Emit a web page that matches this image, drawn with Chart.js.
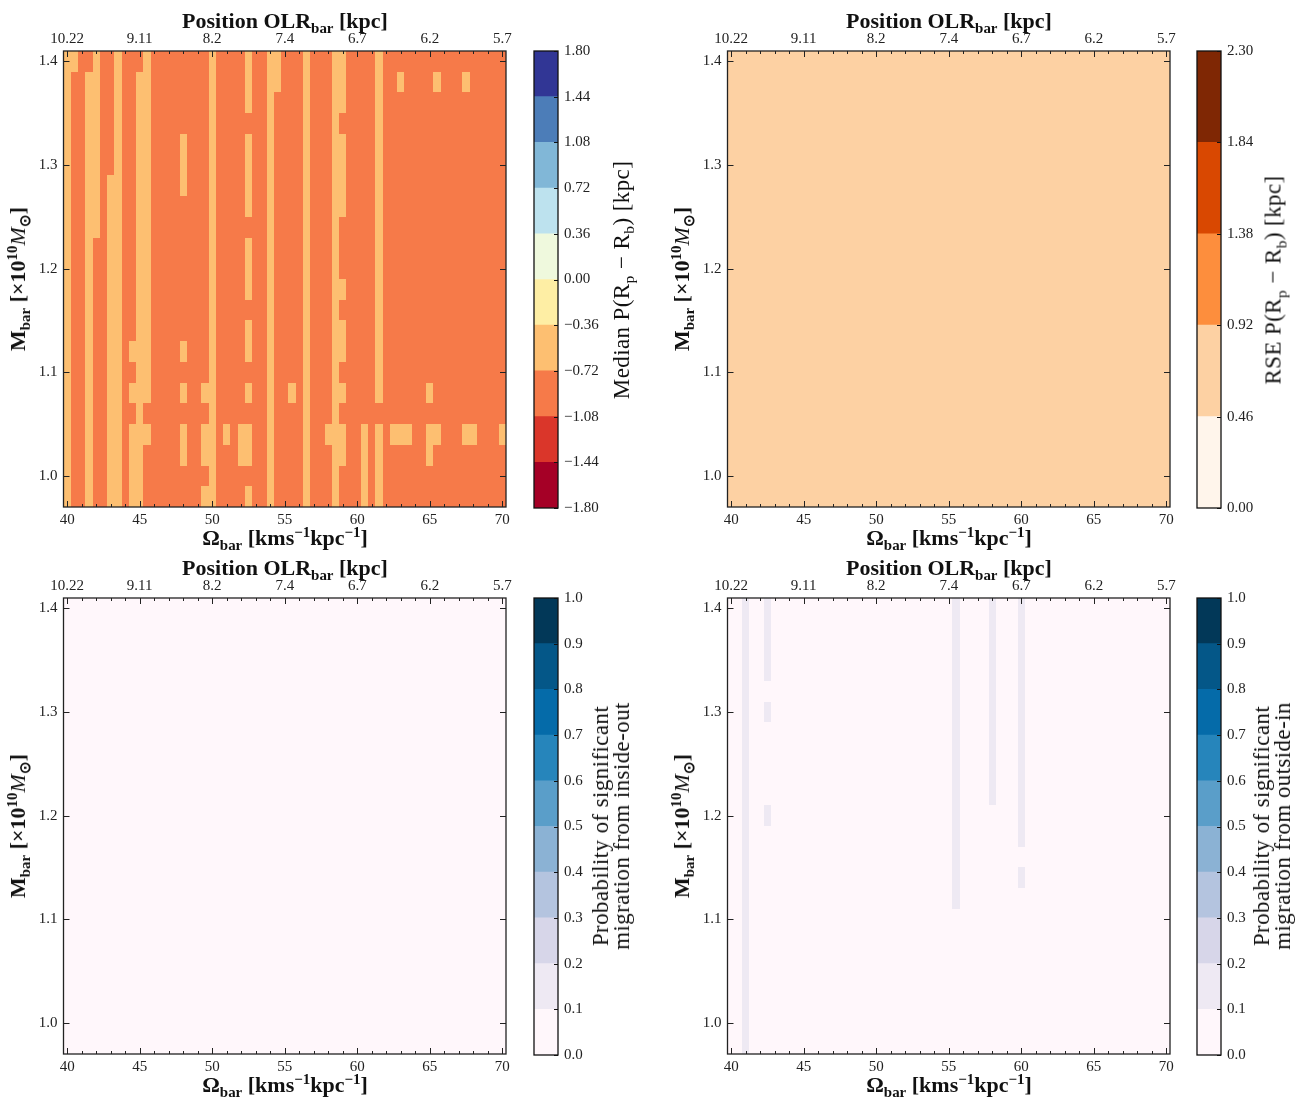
<!DOCTYPE html>
<html>
<head>
<meta charset="utf-8">
<script src="https://cdn.jsdelivr.net/npm/chart.js@4.4.1/dist/chart.umd.min.js"></script>
<style>
  body { margin: 0; background: #fff; }
  #page { position: relative; width: 1299px; height: 1099px; overflow: hidden; }
  canvas { position: absolute; }
  .txt { position: absolute; font-family: 'Liberation Serif', serif; color: #111; white-space: nowrap;
         transform: translate(-50%, -50%); line-height: 1; }
  .bold { font-weight: bold; font-size: 22px; }
  .rot { transform: translate(-50%, -50%) rotate(-90deg); }
  .cbl { font-size: 23px; letter-spacing: 0.4px; text-align: center; line-height: 21px; }
  sub, sup { font-size: 68%; line-height: 0; }
</style>
</head>
<body>
<div id="page">
  <canvas id="hTL" width="520" height="545" style="left:0;top:0"></canvas>
  <canvas id="hTR" width="520" height="545" style="left:664px;top:0"></canvas>
  <canvas id="hBL" width="520" height="545" style="left:0;top:547px"></canvas>
  <canvas id="hBR" width="520" height="545" style="left:664px;top:547px"></canvas>
  <canvas id="cTL" width="82" height="545" style="left:533px;top:0"></canvas>
  <canvas id="cTR" width="82" height="545" style="left:1196px;top:0"></canvas>
  <canvas id="cBL" width="82" height="545" style="left:533px;top:547px"></canvas>
  <canvas id="cBR" width="82" height="545" style="left:1196px;top:547px"></canvas>

  <div class="txt bold" style="left:285px;top:21px">Position OLR<sub>bar</sub> [kpc]</div>
  <div class="txt bold" style="left:949px;top:21px">Position OLR<sub>bar</sub> [kpc]</div>
  <div class="txt bold" style="left:285px;top:568px">Position OLR<sub>bar</sub> [kpc]</div>
  <div class="txt bold" style="left:949px;top:568px">Position OLR<sub>bar</sub> [kpc]</div>

  <div class="txt bold" style="left:285px;top:538px">&Omega;<sub>bar</sub> [kms<sup>&minus;1</sup>kpc<sup>&minus;1</sup>]</div>
  <div class="txt bold" style="left:949px;top:538px">&Omega;<sub>bar</sub> [kms<sup>&minus;1</sup>kpc<sup>&minus;1</sup>]</div>
  <div class="txt bold" style="left:285px;top:1085px">&Omega;<sub>bar</sub> [kms<sup>&minus;1</sup>kpc<sup>&minus;1</sup>]</div>
  <div class="txt bold" style="left:949px;top:1085px">&Omega;<sub>bar</sub> [kms<sup>&minus;1</sup>kpc<sup>&minus;1</sup>]</div>

  <div class="txt bold rot" style="left:18px;top:279px">M<sub>bar</sub> [&times;10<sup>10</sup><i style="font-weight:normal">M</i><sub>&#8857;</sub>]</div>
  <div class="txt bold rot" style="left:682px;top:279px">M<sub>bar</sub> [&times;10<sup>10</sup><i style="font-weight:normal">M</i><sub>&#8857;</sub>]</div>
  <div class="txt bold rot" style="left:18px;top:826px">M<sub>bar</sub> [&times;10<sup>10</sup><i style="font-weight:normal">M</i><sub>&#8857;</sub>]</div>
  <div class="txt bold rot" style="left:682px;top:826px">M<sub>bar</sub> [&times;10<sup>10</sup><i style="font-weight:normal">M</i><sub>&#8857;</sub>]</div>

  <div class="txt rot cbl" style="left:621px;top:280px">Median P(R<sub>p</sub> &minus; R<sub>b</sub>) [kpc]</div>
  <div class="txt rot cbl" style="left:1273px;top:280px">RSE P(R<sub>p</sub> &minus; R<sub>b</sub>) [kpc]</div>
  <div class="txt rot cbl" style="left:611px;top:826px">Probability of significant<br>migration from inside-out</div>
  <div class="txt rot cbl" style="left:1272px;top:826px">Probability of significant<br>migration from outside-in</div>
</div>

<script>
// grid of the maps: pattern speed (columns) and bar mass (rows, top row first)
const omega = [40, 40.5, 41, 41.5, 42, 42.5, 43, 43.5, 44, 44.5, 45, 45.5, 46, 46.5, 47, 47.5,
  48, 48.5, 49, 49.5, 50, 50.5, 51, 51.5, 52, 52.5, 53, 53.5, 54, 54.5, 55, 55.5, 56, 56.5,
  57, 57.5, 58, 58.5, 59, 59.5, 60, 60.5, 61, 61.5, 62, 62.5, 63, 63.5, 64, 64.5, 65, 65.5,
  66, 66.5, 67, 67.5, 68, 68.5, 69, 69.5, 70];
const mbar = [1.40, 1.38, 1.36, 1.34, 1.32, 1.30, 1.28, 1.26, 1.24, 1.22, 1.20, 1.18, 1.16,
  1.14, 1.12, 1.10, 1.08, 1.06, 1.04, 1.02, 1.00, 0.98];

const omegaTicks = [40, 45, 50, 55, 60, 65, 70];
const olrTickLabels = ['10.22', '9.11', '8.2', '7.4', '6.7', '6.2', '5.7'];
const mbarTicks = [1.0, 1.1, 1.2, 1.3, 1.4];

// median P(Rp - Rb): D ~ -0.90 kpc, L ~ -0.55 kpc
const medianLevel = { D: -0.90, L: -0.55 };
const medianRows = [
  'LLDDLDDLDD DLDDDDDDDD LDDDDLDDLL DDDLDDDLLD DDDLDDDDDD DDDDDDDDDD D',
  'LDDLLDDLDD LLDDDDDDDD LDDDDLDDLL DDDLDDDLLD DDDLDDLDDD DLDDDLDDDD D',
  'LDDLLDDLDD LLDDDDDDDD LDDDDLDDLD DDDLDDDLLD DDDLDDDDDD DDDDDDDDDD D',
  'LDDLLDDLDD LLDDDDDDDD LDDDDDDDLD DDDLDDDLDD DDDLDDDDDD DDDDDDDDDD D',
  'LDDLLDDLDD LLDDDDLDDD LDDDDLDDLD DDDLDDDLLD DDDLDDDDDD DDDDDDDDDD D',
  'LDDLLDDLDD LLDDDDLDDD LDDDDLDDLD DDDLDDDLLD DDDLDDDDDD DDDDDDDDDD D',
  'LDDLLDLLDD LLDDDDLDDD LDDDDLDDLD DDDLDDDLLD DDDLDDDDDD DDDDDDDDDD D',
  'LDDLLDLLDD LLDDDDDDDD LDDDDLDDLD DDDLDDDLLD DDDLDDDDDD DDDDDDDDDD D',
  'LDDLLDLLDD LLDDDDDDDD LDDDDDDDLD DDDLDDDLDD DDDLDDDDDD DDDDDDDDDD D',
  'LDDLDDLLDD LLDDDDDDDD LDDDDLDDLD DDDLDDDLDD DDDLDDDDDD DDDDDDDDDD D',
  'LDDLDDLLDD LLDDDDDDDD LDDDDLDDLD DDDLDDDLDD DDDLDDDDDD DDDDDDDDDD D',
  'LDDLDDLLDD LLDDDDDDDD LDDDDLDDLD DDDLDDDLLD DDDLDDDDDD DDDDDDDDDD D',
  'LDDLDDLLDD LLDDDDDDDD LDDDDDDDLD DDDLDDDLDD DDDLDDDDDD DDDDDDDDDD D',
  'LDDLDDLLDD LLDDDDDDDD LDDDDLDDLD DDDLDDDLLD DDDLDDDDDD DDDDDDDDDD D',
  'LDDLDDLLDL LLDDDDLDDD LDDDDLDDLD DDDLDDDLLD DDDLDDDDDD DDDDDDDDDD D',
  'LDDLDDLLDD LLDDDDDDDD LDDDDDDDLD DDDLDDDLDD DDDLDDDDDD DDDDDDDDDD D',
  'LDDLDDLLDL LLDDDDLDDL LDDDDLDDLD DLDLDDDLLD DDDLDDDDDD LDDDDDDDDD D',
  'LDDLDDLLDD LDDDDDDDDD LDDDDDDDLD DDDLDDDLDD DDDDDDDDDD DDDDDDDDDD D',
  'LDDLDDLLDL LLDDDDLDDL LDLDLLDDLD DDDLDDLLLD DLDLDLLLDD LLDDDLLDDD L',
  'LDDLDDLLDL LDDDDDLDDL LDDDLLDDLD DDDLDDDLLD DLDLDDDDDD LDDDDDDDDD D',
  'LDDLDDLLDL LDDDDDDDDD LDDDDDDDLD DDDLDDDLDD DLDLDDDDDD DDDDDDDDDD D',
  'LDDLDDLLDL LDDDDDDDDL LDDDDLDDLD DDDLDDDLDD DLDLDDDDDD DDDDDDDDDD D'
];

// RSE P(Rp - Rb): every cell ~0.70 kpc
const rseLevel = { R: 0.70 };
const rseRows = [
  'RRRRRRRRRR RRRRRRRRRR RRRRRRRRRR RRRRRRRRRR RRRRRRRRRR RRRRRRRRRR R',
  'RRRRRRRRRR RRRRRRRRRR RRRRRRRRRR RRRRRRRRRR RRRRRRRRRR RRRRRRRRRR R',
  'RRRRRRRRRR RRRRRRRRRR RRRRRRRRRR RRRRRRRRRR RRRRRRRRRR RRRRRRRRRR R',
  'RRRRRRRRRR RRRRRRRRRR RRRRRRRRRR RRRRRRRRRR RRRRRRRRRR RRRRRRRRRR R',
  'RRRRRRRRRR RRRRRRRRRR RRRRRRRRRR RRRRRRRRRR RRRRRRRRRR RRRRRRRRRR R',
  'RRRRRRRRRR RRRRRRRRRR RRRRRRRRRR RRRRRRRRRR RRRRRRRRRR RRRRRRRRRR R',
  'RRRRRRRRRR RRRRRRRRRR RRRRRRRRRR RRRRRRRRRR RRRRRRRRRR RRRRRRRRRR R',
  'RRRRRRRRRR RRRRRRRRRR RRRRRRRRRR RRRRRRRRRR RRRRRRRRRR RRRRRRRRRR R',
  'RRRRRRRRRR RRRRRRRRRR RRRRRRRRRR RRRRRRRRRR RRRRRRRRRR RRRRRRRRRR R',
  'RRRRRRRRRR RRRRRRRRRR RRRRRRRRRR RRRRRRRRRR RRRRRRRRRR RRRRRRRRRR R',
  'RRRRRRRRRR RRRRRRRRRR RRRRRRRRRR RRRRRRRRRR RRRRRRRRRR RRRRRRRRRR R',
  'RRRRRRRRRR RRRRRRRRRR RRRRRRRRRR RRRRRRRRRR RRRRRRRRRR RRRRRRRRRR R',
  'RRRRRRRRRR RRRRRRRRRR RRRRRRRRRR RRRRRRRRRR RRRRRRRRRR RRRRRRRRRR R',
  'RRRRRRRRRR RRRRRRRRRR RRRRRRRRRR RRRRRRRRRR RRRRRRRRRR RRRRRRRRRR R',
  'RRRRRRRRRR RRRRRRRRRR RRRRRRRRRR RRRRRRRRRR RRRRRRRRRR RRRRRRRRRR R',
  'RRRRRRRRRR RRRRRRRRRR RRRRRRRRRR RRRRRRRRRR RRRRRRRRRR RRRRRRRRRR R',
  'RRRRRRRRRR RRRRRRRRRR RRRRRRRRRR RRRRRRRRRR RRRRRRRRRR RRRRRRRRRR R',
  'RRRRRRRRRR RRRRRRRRRR RRRRRRRRRR RRRRRRRRRR RRRRRRRRRR RRRRRRRRRR R',
  'RRRRRRRRRR RRRRRRRRRR RRRRRRRRRR RRRRRRRRRR RRRRRRRRRR RRRRRRRRRR R',
  'RRRRRRRRRR RRRRRRRRRR RRRRRRRRRR RRRRRRRRRR RRRRRRRRRR RRRRRRRRRR R',
  'RRRRRRRRRR RRRRRRRRRR RRRRRRRRRR RRRRRRRRRR RRRRRRRRRR RRRRRRRRRR R',
  'RRRRRRRRRR RRRRRRRRRR RRRRRRRRRR RRRRRRRRRR RRRRRRRRRR RRRRRRRRRR R'
];

// probability of inside-out migration: every cell below 0.1
const insideOutLevel = { '0': 0.03 };
const insideOutRows = [
  '0000000000 0000000000 0000000000 0000000000 0000000000 0000000000 0',
  '0000000000 0000000000 0000000000 0000000000 0000000000 0000000000 0',
  '0000000000 0000000000 0000000000 0000000000 0000000000 0000000000 0',
  '0000000000 0000000000 0000000000 0000000000 0000000000 0000000000 0',
  '0000000000 0000000000 0000000000 0000000000 0000000000 0000000000 0',
  '0000000000 0000000000 0000000000 0000000000 0000000000 0000000000 0',
  '0000000000 0000000000 0000000000 0000000000 0000000000 0000000000 0',
  '0000000000 0000000000 0000000000 0000000000 0000000000 0000000000 0',
  '0000000000 0000000000 0000000000 0000000000 0000000000 0000000000 0',
  '0000000000 0000000000 0000000000 0000000000 0000000000 0000000000 0',
  '0000000000 0000000000 0000000000 0000000000 0000000000 0000000000 0',
  '0000000000 0000000000 0000000000 0000000000 0000000000 0000000000 0',
  '0000000000 0000000000 0000000000 0000000000 0000000000 0000000000 0',
  '0000000000 0000000000 0000000000 0000000000 0000000000 0000000000 0',
  '0000000000 0000000000 0000000000 0000000000 0000000000 0000000000 0',
  '0000000000 0000000000 0000000000 0000000000 0000000000 0000000000 0',
  '0000000000 0000000000 0000000000 0000000000 0000000000 0000000000 0',
  '0000000000 0000000000 0000000000 0000000000 0000000000 0000000000 0',
  '0000000000 0000000000 0000000000 0000000000 0000000000 0000000000 0',
  '0000000000 0000000000 0000000000 0000000000 0000000000 0000000000 0',
  '0000000000 0000000000 0000000000 0000000000 0000000000 0000000000 0',
  '0000000000 0000000000 0000000000 0000000000 0000000000 0000000000 0'
];

// probability of outside-in migration: 0 -> below 0.1, 1 -> 0.1-0.2
const outsideInLevel = { '0': 0.03, '1': 0.15 };
const outsideInRows = [
  '0010010000 0000000000 0000000000 0100001000 1000000000 0000000000 0',
  '0010010000 0000000000 0000000000 0100001000 1000000000 0000000000 0',
  '0010010000 0000000000 0000000000 0100001000 1000000000 0000000000 0',
  '0010010000 0000000000 0000000000 0100001000 1000000000 0000000000 0',
  '0010000000 0000000000 0000000000 0100001000 1000000000 0000000000 0',
  '0010010000 0000000000 0000000000 0100001000 1000000000 0000000000 0',
  '0010000000 0000000000 0000000000 0100001000 1000000000 0000000000 0',
  '0010000000 0000000000 0000000000 0100001000 1000000000 0000000000 0',
  '0010000000 0000000000 0000000000 0100001000 1000000000 0000000000 0',
  '0010000000 0000000000 0000000000 0100001000 1000000000 0000000000 0',
  '0010010000 0000000000 0000000000 0100000000 1000000000 0000000000 0',
  '0010000000 0000000000 0000000000 0100000000 1000000000 0000000000 0',
  '0010000000 0000000000 0000000000 0100000000 0000000000 0000000000 0',
  '0010000000 0000000000 0000000000 0100000000 1000000000 0000000000 0',
  '0010000000 0000000000 0000000000 0100000000 0000000000 0000000000 0',
  '0010000000 0000000000 0000000000 0000000000 0000000000 0000000000 0',
  '0010000000 0000000000 0000000000 0000000000 0000000000 0000000000 0',
  '0010000000 0000000000 0000000000 0000000000 0000000000 0000000000 0',
  '0010000000 0000000000 0000000000 0000000000 0000000000 0000000000 0',
  '0010000000 0000000000 0000000000 0000000000 0000000000 0000000000 0',
  '0010000000 0000000000 0000000000 0000000000 0000000000 0000000000 0',
  '0010000000 0000000000 0000000000 0000000000 0000000000 0000000000 0'
];

// discrete colour scales
const medianBounds = [-1.8, -1.44, -1.08, -0.72, -0.36, 0, 0.36, 0.72, 1.08, 1.44, 1.8];
const medianColors = ['#a50026', '#da362a', '#f67a49', '#fdbf71', '#feeea4',
  '#eff9dd', '#bde2ee', '#81b7d7', '#4c7db8', '#313695'];
const medianTickLabels = ['\u22121.80', '\u22121.44', '\u22121.08', '\u22120.72', '\u22120.36',
  '0.00', '0.36', '0.72', '1.08', '1.44', '1.80'];

const rseBounds = [0, 0.46, 0.92, 1.38, 1.84, 2.30];
const rseColors = ['#fff5eb', '#fdd1a3', '#fd8e3d', '#d94801', '#7f2704'];
const rseTickLabels = ['0.00', '0.46', '0.92', '1.38', '1.84', '2.30'];

const probBounds = [0, 0.1, 0.2, 0.3, 0.4, 0.5, 0.6, 0.7, 0.8, 0.9, 1.0];
const probColors = ['#fff7fb', '#eee9f3', '#d7d6e9', '#b4c4df', '#8bb2d4',
  '#5a9ec9', '#2685bb', '#056ba9', '#045788', '#023858'];
const probTickLabels = ['0.0', '0.1', '0.2', '0.3', '0.4', '0.5', '0.6', '0.7', '0.8', '0.9', '1.0'];

const tickFont = { family: "'Liberation Serif', serif", size: 15 };
const tickColor = '#222';

function binColor(v, bounds, colors) {
    for (let i = 0; i < colors.length; i++) {
        if (v >= bounds[i] && v < bounds[i + 1]) return colors[i];
    }
    return colors[colors.length - 1];
}

// fill one rectangle per cell, edges taken from the chart scales
function cellPlugin(bounds, colors) {
    return {
        id: 'cells',
        beforeDatasetsDraw(chart) {
            const { ctx, chartArea: a, scales: { x, y } } = chart;
            const hx = (omega[1] - omega[0]) / 2;
            const hy = (mbar[0] - mbar[1]) / 2;
            ctx.save();
            ctx.beginPath();
            ctx.rect(a.left, a.top, a.width, a.height);
            ctx.clip();
            chart.data.datasets[0].data.forEach(p => {
                const x0 = Math.round(x.getPixelForValue(p.x - hx));
                const x1 = Math.round(x.getPixelForValue(p.x + hx));
                const y0 = Math.round(y.getPixelForValue(p.y + hy));
                const y1 = Math.round(y.getPixelForValue(p.y - hy));
                ctx.fillStyle = binColor(p.v, bounds, colors);
                ctx.fillRect(x0, y0, x1 - x0, y1 - y0);
            });
            ctx.restore();
        }
    };
}

// frame with inward ticks (minor every 1 on x)
const frameTicks = {
    id: 'frameTicks',
    afterDraw(chart) {
        const { ctx, chartArea: a, scales: { x, y } } = chart;
        ctx.save();
        ctx.strokeStyle = '#222';
        ctx.lineWidth = 1;
        ctx.beginPath();
        for (let v = omegaTicks[0]; v <= omegaTicks[omegaTicks.length - 1]; v += 1) {
            const px = Math.round(x.getPixelForValue(v)) + 0.5;
            const len = omegaTicks.includes(v) ? 6 : 3;
            ctx.moveTo(px, a.bottom); ctx.lineTo(px, a.bottom - len);
            ctx.moveTo(px, a.top); ctx.lineTo(px, a.top + len);
        }
        y.ticks.forEach(t => {
            const py = Math.round(y.getPixelForValue(t.value)) + 0.5;
            ctx.moveTo(a.left, py); ctx.lineTo(a.left + 6, py);
            ctx.moveTo(a.right, py); ctx.lineTo(a.right - 6, py);
        });
        ctx.stroke();
        ctx.lineWidth = 1.3;
        ctx.strokeRect(a.left, a.top, a.width, a.height);
        ctx.restore();
    }
};

function heatChart(id, rows, level, bounds, colors) {
    const cells = [];
    rows.forEach((row, r) => {
        row.replace(/ /g, '').split('').forEach((ch, c) => {
            cells.push({ x: omega[c], y: mbar[r], v: level[ch] });
        });
    });
    const xmin = omega[0] - (omega[1] - omega[0]) / 2;
    const xmax = omega[omega.length - 1] + (omega[1] - omega[0]) / 2;
    const ymin = mbar[mbar.length - 1] - (mbar[0] - mbar[1]) / 2;
    const ymax = mbar[0] + (mbar[0] - mbar[1]) / 2;
    const setX = s => { s.ticks = omegaTicks.map(v => ({ value: v })); };
    return new Chart(document.getElementById(id), {
        type: 'scatter',
        data: { datasets: [{ data: cells, pointRadius: 0, pointHoverRadius: 0 }] },
        options: {
            responsive: false,
            animation: false,
            events: [],
            layout: { padding: { right: 14 } },
            plugins: { legend: { display: false }, tooltip: { enabled: false } },
            scales: {
                x: {
                    type: 'linear', position: 'bottom', min: xmin, max: xmax,
                    afterBuildTicks: setX,
                    afterFit: s => { s.height = 38; },
                    grid: { display: false, drawTicks: false },
                    border: { display: false },
                    ticks: { callback: v => String(v), font: tickFont, color: tickColor,
                             padding: 4, autoSkip: false, maxRotation: 0 }
                },
                x2: {
                    type: 'linear', position: 'top', min: xmin, max: xmax,
                    afterBuildTicks: setX,
                    afterFit: s => { s.height = 51; },
                    grid: { display: false, drawTicks: false },
                    border: { display: false },
                    ticks: { callback: (v, i) => olrTickLabels[i], font: tickFont, color: tickColor,
                             padding: 3, autoSkip: false, maxRotation: 0 }
                },
                y: {
                    type: 'linear', position: 'left', min: ymin, max: ymax,
                    afterBuildTicks: s => { s.ticks = mbarTicks.map(v => ({ value: v })); },
                    afterFit: s => { s.width = 63.5; },
                    grid: { display: false, drawTicks: false },
                    border: { display: false },
                    ticks: { callback: v => v.toFixed(1), font: tickFont, color: tickColor, padding: 6 }
                }
            }
        },
        plugins: [cellPlugin(bounds, colors), frameTicks]
    });
}

const cbFrame = {
    id: 'cbFrame',
    afterDraw(chart) {
        const { ctx, chartArea: a, scales: { y } } = chart;
        ctx.save();
        ctx.strokeStyle = '#111';
        ctx.lineWidth = 1;
        ctx.beginPath();
        y.ticks.forEach(t => {
            const py = Math.round(y.getPixelForValue(t.value)) + 0.5;
            ctx.moveTo(a.right, py); ctx.lineTo(a.right - 4, py);
        });
        ctx.stroke();
        ctx.lineWidth = 1.3;
        ctx.strokeRect(a.left, a.top, a.width, a.height);
        ctx.restore();
    }
};

function colorbar(id, bounds, colors, labels) {
    return new Chart(document.getElementById(id), {
        type: 'bar',
        data: {
            labels: [''],
            datasets: colors.map((c, i) => ({
                data: [[bounds[i], bounds[i + 1]]],
                backgroundColor: c,
                borderWidth: 0,
                grouped: false,
                barPercentage: 1,
                categoryPercentage: 1
            }))
        },
        options: {
            responsive: false,
            animation: false,
            events: [],
            layout: { padding: { top: 51, bottom: 37, left: 1, right: 0 } },
            plugins: { legend: { display: false }, tooltip: { enabled: false } },
            scales: {
                x: { display: false },
                y: {
                    position: 'right', min: bounds[0], max: bounds[bounds.length - 1],
                    afterBuildTicks: s => { s.ticks = bounds.map(v => ({ value: v })); },
                    afterFit: s => { s.width = 57; },
                    grid: { display: false, drawTicks: false },
                    border: { display: false },
                    ticks: { callback: (v, i) => labels[i], font: tickFont, color: tickColor, padding: 6 }
                }
            }
        },
        plugins: [cbFrame]
    });
}

heatChart('hTL', medianRows, medianLevel, medianBounds, medianColors);
heatChart('hTR', rseRows, rseLevel, rseBounds, rseColors);
heatChart('hBL', insideOutRows, insideOutLevel, probBounds, probColors);
heatChart('hBR', outsideInRows, outsideInLevel, probBounds, probColors);

colorbar('cTL', medianBounds, medianColors, medianTickLabels);
colorbar('cTR', rseBounds, rseColors, rseTickLabels);
colorbar('cBL', probBounds, probColors, probTickLabels);
colorbar('cBR', probBounds, probColors, probTickLabels);
</script>
</body>
</html>
